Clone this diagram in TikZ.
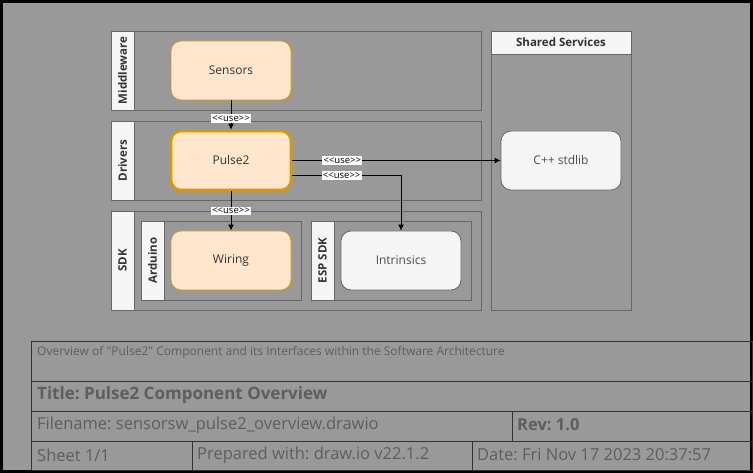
\documentclass[tikz,border=0pt]{standalone}
\usepackage{fontspec}
\setmainfont{Open Sans}
\frenchspacing
\usetikzlibrary{positioning,calc,arrows.meta}
\definecolor{pagegray}{HTML}{999999}
\definecolor{laneline}{HTML}{666666}
\definecolor{headfill}{HTML}{F5F5F5}
\definecolor{orfill}{HTML}{FFE6CC}
\definecolor{orline}{HTML}{D79B00}
\definecolor{tbline}{HTML}{333333}
\definecolor{tbtext}{HTML}{5E5E5E}
\tikzset{
  lanebox/.style={draw=laneline, line width=0.8pt},
  lanehead/.style={draw=laneline, fill=headfill, line width=0.8pt},
  lanetext/.style={rotate=90, font=\fontsize{11.5}{12}\selectfont\bfseries, text=black!80},
  compbox/.style={rounded corners=10pt, minimum width=120pt, minimum height=59pt, line width=0.8pt, font=\fontsize{12}{14}\selectfont, text=black!80},
  orbox/.style={compbox, draw=orline, fill=orfill},
  graybox/.style={compbox, draw=laneline, fill=headfill, text=black!70},
  usearrow/.style={-{Latex[length=6pt,width=6pt]}, line width=0.9pt},
  uselbl/.style={fill=white, inner sep=1.2pt, font=\fontsize{9.5}{10}\selectfont},
  tbtxt/.style={anchor=west, text=tbtext, inner sep=0pt}
}
% lane: x1, y1, x2, y2, label, name
\newcommand{\drawlane}[6]{
  \draw[lanebox] (#1,#2) rectangle (#3,#4);
  \draw[lanehead] (#1,#2) rectangle (#1+23,#4);
  \node[lanetext] (#6) at (#1+11.5,{(#2+#4)/2}) {#5};
}
\begin{document}
\begin{tikzpicture}[x=1pt,y=-1pt]
\useasboundingbox (0,0) rectangle (753,473);
\fill[black] (0,0) rectangle (753,473);
\fill[pagegray] (3,3) rectangle (750,470);
% lanes
\drawlane{111}{31}{481}{110}{Middleware}{mwlabel}
\drawlane{111}{121}{481}{200}{Drivers}{drvlabel}
\drawlane{111}{211}{481}{310}{SDK}{sdklabel}
\drawlane{141}{221}{301}{300}{Arduino}{ardlabel}
\drawlane{311}{221}{471}{300}{ESP SDK}{esplabel}
% shared services
\draw[lanebox] (491,31) rectangle (631,310);
\draw[lanehead] (491,31) rectangle (631,54);
\node[font=\fontsize{11.5}{12}\selectfont\bfseries, text=black!80] (sslabel) at (561,42.5) {Shared Services};
% components
\node[orbox] (sensors) at (231,70.5) {Sensors};
\node[orbox, line width=2.6pt] (pulse) at (231,160.5) {Pulse2};
\node[orbox] (wiring) at (231,260.5) {Wiring};
\node[graybox] (intrinsics) at (401,260.5) {Intrinsics};
\node[graybox] (stdlib) at (561,160.5) {C++ stdlib};
% connectors
\coordinate (pulseout) at ([yshift=-15pt]pulse.east);
\draw[usearrow] (sensors) -- node[uselbl, pos=0.62] {<{}<use>{}>} (pulse);
\draw[usearrow] (pulse) -- node[uselbl, pos=0.5] {<{}<use>{}>} (wiring);
\draw[usearrow] (pulse.east) -- node[uselbl, pos=0.24] {<{}<use>{}>} (stdlib.west);
\draw[usearrow] (pulseout) -| node[uselbl, pos=0.227] {<{}<use>{}>} (intrinsics.north);
% title block
\draw[tbline, line width=0.8pt] (31,341) rectangle (752,470);
\draw[tbline, line width=0.8pt] (31,381) -- (752,381);
\draw[tbline, line width=0.8pt] (31,411) -- (752,411);
\draw[tbline, line width=0.8pt] (31,441) -- (752,441);
\draw[tbline, line width=0.8pt] (512,411) -- (512,441);
\draw[tbline, line width=0.8pt] (192,441) -- (192,470);
\draw[tbline, line width=0.8pt] (472,441) -- (472,470);
\node[tbtxt, font=\fontsize{12}{13}\selectfont] (tbdesc) at (37,352) {Overview of \textquotedbl Pulse2\textquotedbl{} Component and its Interfaces within the Software Architecture};
\node[tbtxt, font=\fontsize{17}{19}\selectfont\bfseries] (tbtitle) at (37,395) {Title: Pulse2 Component Overview};
\node[tbtxt, font=\fontsize{16.5}{18}\selectfont] (tbfile) at (37,425) {Filename: sensorsw\_pulse2\_overview.drawio};
\node[tbtxt, font=\fontsize{16.5}{18}\selectfont\bfseries] (tbrev) at (517,425) {Rev: 1.0};
\node[tbtxt, font=\fontsize{16.5}{18}\selectfont] (tbsheet) at (37,455) {Sheet 1/1};
\node[tbtxt, font=\fontsize{16.5}{18}\selectfont] (tbprep) at (197,455) {Prepared with: draw.io v22.1.2};
\node[tbtxt, font=\fontsize{16.5}{18}\selectfont] (tbdate) at (477,455) {Date: Fri Nov 17 2023 20:37:57};
\end{tikzpicture}
\end{document}
